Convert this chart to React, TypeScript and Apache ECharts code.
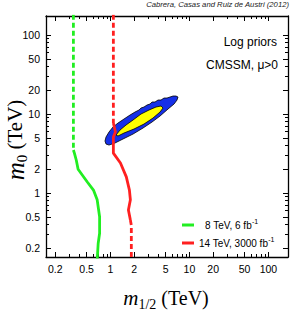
import React, { useEffect, useRef } from "react";
import * as echarts from "echarts";

// ---- data (values in TeV) ----
const majorTicks = [0.2, 0.5, 1, 2, 5, 10, 20, 50, 100];
const minorTicks = [0.3, 0.4, 0.6, 0.7, 0.8, 0.9, 3, 4, 6, 7, 8, 9, 30, 40, 60, 70, 80, 90];

const green8Dashed = [[0.34, 180], [0.34, 3.5]];
const green8Solid = [
  [0.34, 3.5], [0.35, 3.2], [0.37, 2.6], [0.39, 2.0], [0.51, 1.38], [0.61, 1.09],
  [0.68, 0.82], [0.73, 0.5], [0.73, 0.31], [0.7, 0.23], [0.68, 0.14],
];
const red14DashedTop = [[1.09, 180], [1.09, 7.7]];
const red14Solid = [
  [1.09, 7.7], [1.157, 5.92], [1.09, 5.11], [1.09, 4.42], [1.09, 3.2], [1.34, 2.4],
  [1.59, 1.6], [1.74, 1.09], [1.79, 0.82], [1.69, 0.61], [1.79, 0.455],
];
const red14DashedBottom = [[1.79, 0.455], [1.84, 0.39], [1.84, 0.14]];

const blueRegion = [
  [0.854, 4.55], [0.88, 5.12], [0.96, 5.92], [1.079, 6.85], [1.248, 7.69], [1.487, 8.65],
  [1.771, 9.71], [2.049, 10.6], [2.301, 11.24], [2.439, 11.91], [2.662, 12.27], [2.906, 13.0],
  [3.172, 13.39], [3.362, 14.19], [3.669, 14.19], [4.004, 15.04], [4.37, 15.04], [4.77, 15.94],
  [5.206, 15.94], [5.68, 16.41], [6.2, 16.9], [6.767, 16.9], [7.173, 16.41], [6.966, 15.04],
  [6.385, 13.39], [5.36, 11.57], [4.245, 9.43], [3.362, 7.92], [2.586, 6.65], [1.932, 5.58],
  [1.444, 4.83], [1.144, 4.3], [0.96, 4.05], [0.88, 4.17],
];
const yellowRegion = [
  [1.177, 5.42], [1.323, 6.27], [1.576, 7.26], [1.932, 8.4], [2.439, 10.0], [3.081, 11.24],
  [3.778, 12.27], [4.37, 12.63], [4.632, 11.91], [4.245, 10.6], [3.461, 8.9], [2.662, 7.47],
  [1.99, 6.46], [1.487, 5.75], [1.248, 5.27],
];

const legendGreen = "8 TeV, 6 fb-1";
const legendRed = "14 TeV, 3000 fb-1";

const lg = (v: number) => Math.log10(v);
const tr = (arr: number[][]) => arr.map(([x, y]) => [lg(x), lg(y)]);

const X_MIN = lg(0.153);
const X_MAX = X_MIN + 242 / 79;
const Y_MIN = lg(0.155);
const Y_MAX = Y_MIN + 241 / 79;

const GREEN = "#22ee22";
const RED = "#ff2020";
const BLUE = "#1530e8";
const YELLOW = "#ffff00";
const SANS = "Liberation Sans";
const SERIF = "Liberation Serif";

function axis(kind: "x" | "y", position: string, major: boolean, withLabel: boolean) {
  const min = kind === "x" ? X_MIN : Y_MIN;
  const max = kind === "x" ? X_MAX : Y_MAX;
  const ticks = (major ? majorTicks : minorTicks).map(lg);
  return {
    type: "value",
    position,
    min,
    max,
    splitLine: { show: false },
    axisLine: { show: major, onZero: false, lineStyle: { color: "#000", width: 1.3 } },
    axisTick: {
      show: true,
      inside: true,
      length: major ? 5 : 3,
      customValues: ticks,
      lineStyle: { color: "#000", width: 1 },
    },
    axisLabel: {
      show: withLabel,
      customValues: ticks,
      margin: 6,
      color: "#000",
      fontFamily: SANS,
      fontSize: 10.5,
      formatter: (v: number) => String(Math.round(Math.pow(10, v) * 10) / 10),
    },
  };
}

function polygonSeries(name: string, pts: number[][], color: string, z: number) {
  const tp = tr(pts);
  return {
    type: "custom",
    name,
    z,
    data: [0],
    xAxisIndex: 0,
    yAxisIndex: 0,
    renderItem: (_p: any, api: any) => ({
      type: "polygon",
      shape: { points: tp.map((p) => api.coord(p)) },
      style: { fill: color, stroke: "#000", lineWidth: 0.8 },
    }),
    silent: true,
  };
}

function lineSeries(name: string, pts: number[][], color: string, dashed: boolean) {
  return {
    type: "line",
    name,
    data: tr(pts),
    xAxisIndex: 0,
    yAxisIndex: 0,
    showSymbol: false,
    symbol: "none",
    z: 5,
    lineStyle: { color, width: 2.8, type: dashed ? [5, 3] : "solid" },
    itemStyle: { color },
  };
}

const legendRich = {
  t: { fontSize: 10, fontFamily: SANS, color: "#000", lineHeight: 14 },
  s: { fontSize: 7, fontFamily: SANS, color: "#000", lineHeight: 7, verticalAlign: "top" },
};
const legendFmt = (name: string) => {
  const base = name.replace(/-1$/, "");
  return `{t|${base}}{s|-1}`;
};

export default function App() {
  const ref = useRef<HTMLDivElement>(null);
  useEffect(() => {
    document.body.style.margin = "0";
    if (!ref.current) return;
    const chart = echarts.init(ref.current, undefined, { renderer: "svg" });
    chart.setOption({
      animation: false,
      backgroundColor: "#fff",
      grid: { left: 46, right: 3, top: 16, bottom: 56 },
      xAxis: [
        axis("x", "bottom", true, true),
        axis("x", "bottom", false, false),
        axis("x", "top", true, false),
        axis("x", "top", false, false),
      ],
      yAxis: [
        axis("y", "left", true, true),
        axis("y", "left", false, false),
        axis("y", "right", true, false),
        axis("y", "right", false, false),
      ],
      legend: [
        {
          data: [legendGreen],
          left: 182,
          top: 218,
          itemWidth: 12,
          itemHeight: 3,
          icon: "rect",
          itemGap: 0,
          padding: 0,
          formatter: legendFmt,
          textStyle: { rich: legendRich, padding: [0, 0, 0, 6] },
          selectedMode: false,
        },
        {
          data: [legendRed],
          left: 182,
          top: 236,
          itemWidth: 12,
          itemHeight: 3,
          icon: "rect",
          itemGap: 0,
          padding: 0,
          formatter: legendFmt,
          textStyle: { rich: legendRich },
          selectedMode: false,
        },
      ],
      graphic: [
        {
          type: "text",
          x: 289,
          y: 4,
          style: {
            text: "Cabrera, Casas and Ruiz de Austri (2012)",
            fontFamily: SANS,
            fontStyle: "italic",
            fontSize: 7.7,
            fill: "#222",
            align: "right",
            verticalAlign: "middle",
          },
        },
        {
          type: "text",
          x: 277,
          y: 42,
          style: {
            text: "Log priors",
            fontFamily: SANS,
            fontSize: 12,
            fill: "#000",
            align: "right",
            verticalAlign: "middle",
          },
        },
        {
          type: "text",
          x: 278,
          y: 65,
          style: {
            text: "CMSSM, μ>0",
            fontFamily: SANS,
            fontSize: 12,
            fill: "#000",
            align: "right",
            verticalAlign: "middle",
          },
        },
        {
          type: "text",
          x: 166,
          y: 298,
          style: {
            text: "{m|m}{s|1/2}{r| (TeV)}",
            align: "center",
            verticalAlign: "middle",
            rich: {
              m: { fontFamily: SERIF, fontStyle: "italic", fontSize: 21, lineHeight: 26, fill: "#000" },
              s: { fontFamily: SERIF, fontSize: 14, lineHeight: 14, verticalAlign: "bottom", fill: "#000" },
              r: { fontFamily: SERIF, fontSize: 20, lineHeight: 26, fill: "#000" },
            },
          },
        },
        {
          type: "text",
          x: 15,
          y: 140,
          rotation: Math.PI / 2,
          style: {
            text: "{m|m}{s|0}{r| (TeV)}",
            align: "center",
            verticalAlign: "middle",
            rich: {
              m: { fontFamily: SERIF, fontStyle: "italic", fontSize: 25, lineHeight: 28, fill: "#000" },
              s: { fontFamily: SERIF, fontSize: 15, lineHeight: 14, verticalAlign: "bottom", fill: "#000" },
              r: { fontFamily: SERIF, fontSize: 21, lineHeight: 28, fill: "#000" },
            },
          },
        },
      ],
      series: [
        polygonSeries("blue", blueRegion, BLUE, 2),
        polygonSeries("yellow", yellowRegion, YELLOW, 3),
        lineSeries("g-dash", green8Dashed, GREEN, true),
        lineSeries(legendGreen, green8Solid, GREEN, false),
        lineSeries("r-dash-top", red14DashedTop, RED, true),
        lineSeries(legendRed, red14Solid, RED, false),
        lineSeries("r-dash-bottom", red14DashedBottom, RED, true),
      ],
    });
    return () => chart.dispose();
  }, []);
  return <div ref={ref} style={{ width: 291, height: 313 }} />;
}
